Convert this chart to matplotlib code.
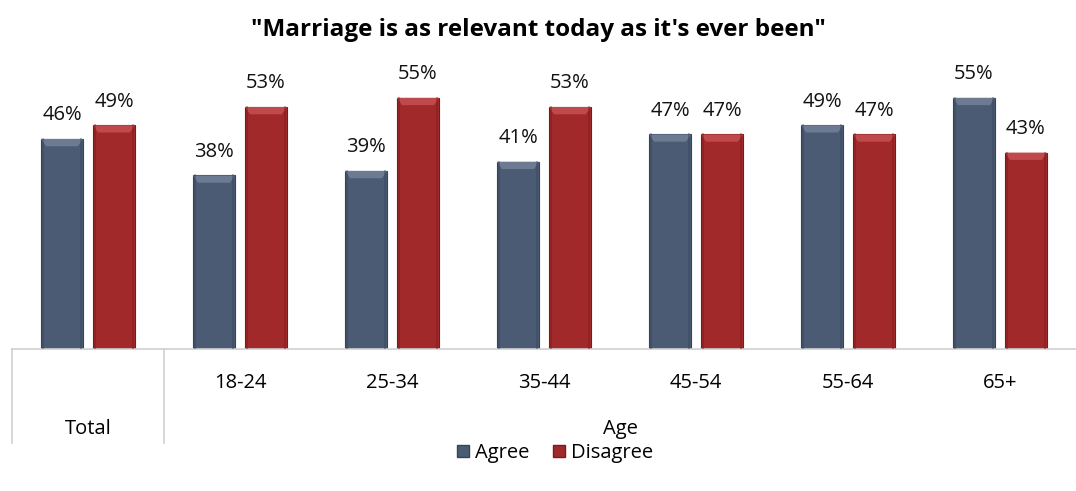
import numpy as np
import matplotlib.pyplot as plt
from matplotlib.patches import Polygon, Patch

plt.rcParams['font.family'] = ['Open Sans', 'DejaVu Sans']

categories = ["Total", "18-24", "25-34", "35-44", "45-54", "55-64", "65+"]
agree = [46, 38, 39, 41, 47, 49, 55]
disagree = [49, 53, 55, 53, 47, 47, 43]
series_names = ["Agree", "Disagree"]
title = "\"Marriage is as relevant today as it's ever been\""

agree_color = "#4b5b73"
disagree_color = "#a2292a"
fs = 14.5


def bevel_bars(ax, xs, vals, width, color, light, dark):
    bars = ax.bar(xs, vals, width, color=color, edgecolor=dark, linewidth=0.8, zorder=2)
    # lighter cap on top of each bar, shaped like an Excel bevel
    cap = 1.6
    inset = width * 0.12
    for x, v in zip(xs, vals):
        x0, x1 = x - width / 2, x + width / 2
        poly = Polygon([(x0, v), (x1, v), (x1 - inset, v - cap), (x0 + inset, v - cap)],
                       closed=True, facecolor=light, edgecolor='none', zorder=3)
        ax.add_patch(poly)
        ax.plot([x0 + 0.01, x0 + 0.01], [0, v], color=dark, lw=1.2, alpha=0.5, zorder=3)
        ax.plot([x1 - 0.01, x1 - 0.01], [0, v], color=dark, lw=1.2, alpha=0.5, zorder=3)
    return bars


fig = plt.figure(figsize=(10.76, 4.91), dpi=100)
ax = fig.add_axes([12 / 1076, (491 - 349) / 491, 1 - 12 / 1076, (349 - 75) / 491])

x = np.arange(len(categories))
w = 0.276
off = 0.171
bevel_bars(ax, x - off, agree, w, agree_color, "#6c7b92", "#36445a")
bevel_bars(ax, x + off, disagree, w, disagree_color, "#c04a4b", "#7a1a1b")

for xi, a, d in zip(x, agree, disagree):
    ax.text(xi - off, a + 3.0, f"{a}%", ha='center', va='bottom', fontsize=fs, color='#111111')
    ax.text(xi + off, d + 3.0, f"{d}%", ha='center', va='bottom', fontsize=fs, color='#111111')

ax.set_xlim(-0.5, len(categories) - 0.5)
ax.set_ylim(0, 60)
for s in ['top', 'right', 'left']:
    ax.spines[s].set_visible(False)
ax.spines['bottom'].set_color('#d0d0d0')
ax.spines['bottom'].set_linewidth(1.2)
ax.set_xticks([])
ax.set_yticks([])

# two-level category axis: age groups, then Total / Age
trans = ax.get_xaxis_transform()
for xi, lab in zip(x[1:], categories[1:]):
    ax.text(xi, -34 / 274, lab, transform=trans, ha='center', va='center', fontsize=fs)
ax.text(0, -80 / 274, categories[0], transform=trans, ha='center', va='center', fontsize=fs)
ax.text((1 + len(categories) - 1) / 2, -80 / 274, "Age", transform=trans,
        ha='center', va='center', fontsize=fs)
for xv in [-0.5, 0.5]:
    ax.plot([xv, xv], [0, -94 / 274], transform=trans, color='#d0d0d0', lw=1.2, clip_on=False)

fig.text(0.5, 1 - 30 / 491, title, ha='center', va='center', fontsize=17.5, fontweight='bold')

handles = [Patch(facecolor=agree_color, edgecolor="#36445a"),
           Patch(facecolor=disagree_color, edgecolor="#7a1a1b")]
fig.legend(handles, series_names, loc='center', bbox_to_anchor=(555 / 1076, 1 - 453 / 491),
           ncol=2, frameon=False, fontsize=fs, handlelength=0.6, handleheight=0.6,
           handletextpad=0.3, columnspacing=1.2)

fig.savefig("out.png", dpi=100)
